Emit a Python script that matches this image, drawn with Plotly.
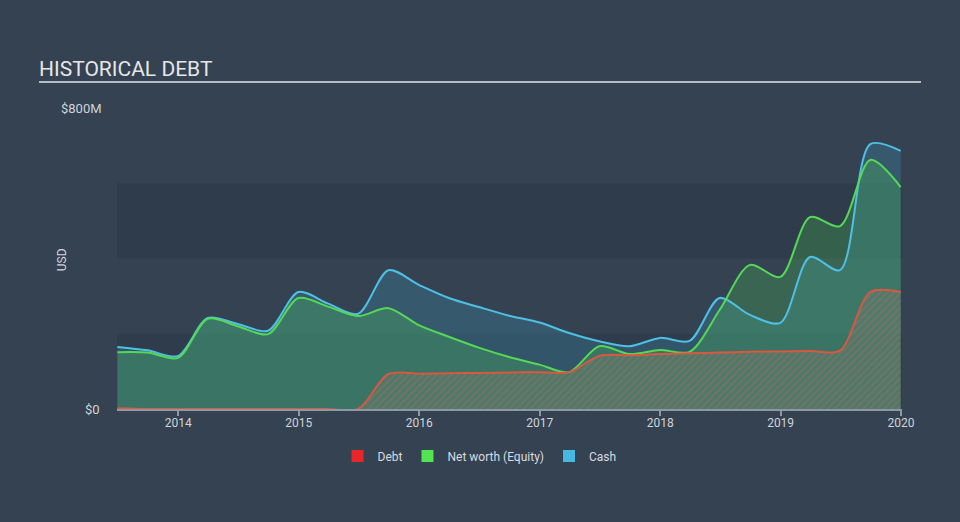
import plotly.graph_objects as go

dates = ["2013-06-30", "2013-09-30", "2013-12-31", "2014-03-31", "2014-06-30", "2014-09-30",
         "2014-12-31", "2015-03-31", "2015-06-30", "2015-09-30", "2015-12-31", "2016-03-31",
         "2016-06-30", "2016-09-30", "2016-12-31", "2017-03-31", "2017-06-30", "2017-09-30",
         "2017-12-31", "2018-03-31", "2018-06-30", "2018-09-30", "2018-12-31", "2019-03-31",
         "2019-06-30", "2019-09-30", "2019-12-31"]

cash = [165, 156, 141, 242, 226, 208, 311, 280, 253, 369, 330, 295, 271, 248, 230, 202, 180,
        167, 189, 181, 295, 250, 229, 404, 369, 704, 686]

equity = [151, 150, 136, 240, 220, 199, 295, 272, 247, 268, 223, 192, 163, 138, 118, 98, 167,
          146, 157, 152, 263, 383, 351, 510, 486, 662, 590]

debt = [2, 0, 0, 0, 0, 0, 0, 0, 0, 93, 94, 95, 96, 97, 98, 98, 141, 143, 146, 148, 150, 152,
        153, 154, 155, 311, 311]

y_ticks = [0, 800]
y_tick_labels = ["$0", "$800M"]
x_ticks = ["2014-01-01", "2015-01-01", "2016-01-01", "2017-01-01", "2018-01-01", "2019-01-01", "2020-01-01"]
x_tick_labels = ["2014", "2015", "2016", "2017", "2018", "2019", "2020"]

BG = "#344252"
BAND = "#2e3c4b"
CASH_C = "#4ec0e6"
EQ_C = "#55d955"
DEBT_C = "#d9583f"
SM = 0.85

fig = go.Figure()

# fills
fig.add_trace(go.Scatter(x=dates, y=cash, mode="lines", line=dict(width=0, shape="spline", smoothing=SM),
                         fill="tozeroy", fillcolor="rgba(71,184,224,0.2)", showlegend=False, hoverinfo="skip"))
fig.add_trace(go.Scatter(x=dates, y=equity, mode="lines", line=dict(width=0, shape="spline", smoothing=SM),
                         fill="tozeroy", fillcolor="rgba(82,229,82,0.22)", showlegend=False, hoverinfo="skip"))
fig.add_trace(go.Scatter(x=dates, y=debt, mode="lines", line=dict(width=0, shape="spline", smoothing=SM),
                         fill="tozeroy", fillcolor="rgba(150,130,115,0.35)",
                         fillpattern=dict(shape="/", fgcolor="rgba(200,110,90,0.55)",
                                          bgcolor="rgba(120,125,115,0.35)", size=5, solidity=0.35),
                         showlegend=False, hoverinfo="skip"))
# lines
fig.add_trace(go.Scatter(x=dates, y=cash, mode="lines", line=dict(color=CASH_C, width=2, shape="spline", smoothing=SM),
                         showlegend=False))
fig.add_trace(go.Scatter(x=dates, y=equity, mode="lines", line=dict(color=EQ_C, width=2, shape="spline", smoothing=SM),
                         showlegend=False))
fig.add_trace(go.Scatter(x=dates, y=debt, mode="lines", line=dict(color=DEBT_C, width=2, shape="spline", smoothing=SM),
                         showlegend=False))

# legend proxies
for name, col in [("Debt", "#e8262a"), ("Net worth (Equity)", "#52e552"), ("Cash", "#47b8e0")]:
    fig.add_trace(go.Scatter(x=[None], y=[None], mode="markers", name=name,
                             marker=dict(symbol="square", size=14, color=col)))

# background bands
for y0, y1 in [(0, 200), (400, 600)]:
    fig.add_shape(type="rect", xref="paper", yref="y", x0=0, x1=1, y0=y0, y1=y1,
                  fillcolor=BAND, line=dict(width=0), layer="below")

# title and underline
fig.add_annotation(text="HISTORICAL DEBT", xref="paper", yref="paper", x=-0.102, y=1.084,
                   xanchor="left", yanchor="bottom", showarrow=False,
                   font=dict(family="Roboto", size=21, color="#e6e6e6"))
fig.add_shape(type="line", xref="paper", yref="paper", x0=-0.0993, x1=1.0242, y0=1.0 + 0.0864, y1=1.0 + 0.0864,
              line=dict(color="#b5bcc4", width=2))

# y labels
fig.add_annotation(text=y_tick_labels[1], xref="paper", yref="y", x=-0.0735, y=y_ticks[1],
                   xanchor="left", yanchor="middle", showarrow=False,
                   font=dict(family="Roboto", size=13, color="#d0d4d8"))
fig.add_annotation(text=y_tick_labels[0], xref="paper", yref="y", x=-0.0185, y=y_ticks[0],
                   xanchor="right", yanchor="middle", showarrow=False,
                   font=dict(family="Roboto", size=13, color="#d0d4d8"))
fig.add_annotation(text="USD", xref="paper", yref="paper", x=-0.069, y=0.497, textangle=-90,
                   xanchor="center", yanchor="middle", showarrow=False,
                   font=dict(family="Roboto", size=12, color="#d0d4d8"))

fig.update_layout(
    width=960, height=522,
    paper_bgcolor=BG, plot_bgcolor=BG,
    margin=dict(l=117, r=58, t=108, b=113),
    font=dict(family="Roboto", color="#d0d4d8", size=12),
    showlegend=True,
    legend=dict(orientation="h", x=0.4618, xanchor="center", y=-0.108, yanchor="top",
                font=dict(family="Roboto", size=12, color="#d8dce0"), bgcolor="rgba(0,0,0,0)",
                itemsizing="constant"),
    xaxis=dict(type="date", range=["2013-06-29", "2020-01-04"], tickvals=x_ticks, ticktext=x_tick_labels,
               showgrid=False, zeroline=False, showline=True, linecolor="#8d99a6", linewidth=2,
               ticks="outside", ticklen=5, tickcolor="#8d99a6", tickwidth=2, layer="above traces",
               ticklabelstandoff=-3,
               tickfont=dict(family="Roboto", size=12, color="#d0d4d8")),
    yaxis=dict(range=[0, 800], showgrid=False, zeroline=False, showticklabels=False, showline=False),
)

fig.write_html("out.html")
